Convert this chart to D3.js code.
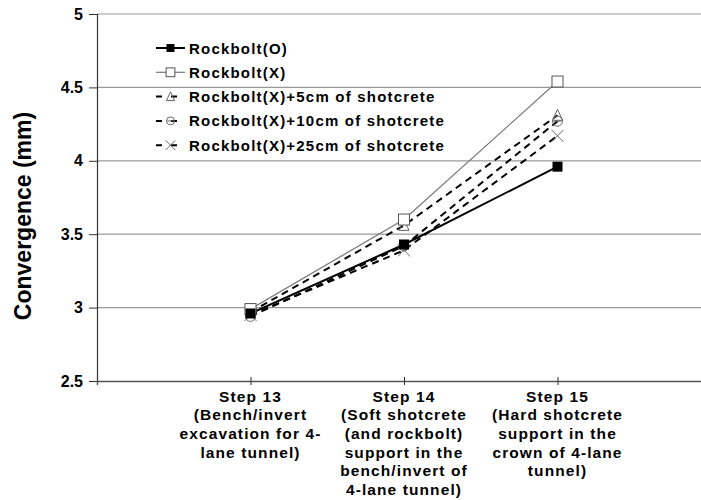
<!DOCTYPE html>
<html><head><meta charset="utf-8">
<script src="https://cdn.jsdelivr.net/npm/d3@7"></script>
<style>body{margin:0;background:#fff}svg{display:block}</style>
</head><body>
<svg id="c" width="701" height="500"></svg>
<script>
const categories = [
  ["Step 13","(Bench/invert","excavation for 4-","lane tunnel)"],
  ["Step 14","(Soft shotcrete","(and rockbolt)","support in the","bench/invert of","4-lane tunnel)"],
  ["Step 15","(Hard shotcrete","support in the","crown of 4-lane","tunnel)"]
];
const seriesNames = ["Rockbolt(O)","Rockbolt(X)","Rockbolt(X)+5cm of shotcrete","Rockbolt(X)+10cm of shotcrete","Rockbolt(X)+25cm of shotcrete"];
const rockboltO = [2.96, 3.43, 3.96];
const rockboltX = [2.99, 3.60, 4.54];
const shot5 = [2.97, 3.56, 4.31];
const shot10 = [2.94, 3.42, 4.27];
const shot25 = [2.95, 3.39, 4.17];
const yTicks = [2.5, 3, 3.5, 4, 4.5, 5];

const svg = d3.select("#c");
const L = 97, R = 711, T = 14, B = 381;
const x = d3.scalePoint().domain(["", ...categories.map(c=>c[0]), " "]).range([L, R]);
const y = d3.scaleLinear().domain([2.5, 5]).range([B, T]);
const font = "'Liberation Sans', Arial, sans-serif";

// grid
svg.append("g").selectAll("line").data(yTicks.filter(t=>t>2.5)).join("line")
  .attr("x1", L).attr("x2", 701).attr("y1", d=>y(d)).attr("y2", d=>y(d))
  .attr("stroke", "#999").attr("stroke-width", 1.2);

// y axis
const ya = svg.append("g").attr("transform", `translate(${L},0)`)
  .call(d3.axisLeft(y).tickValues(yTicks).tickSize(8).tickPadding(6).tickFormat(d3.format("")));
ya.select(".domain").attr("stroke", "#333").attr("stroke-width", 1.2);
ya.selectAll(".tick line").attr("stroke", "#333");
ya.selectAll("text").attr("font-family", font).attr("font-weight", "bold").attr("font-size", 16).attr("fill", "#000");

// x axis
const xa = svg.append("g").attr("transform", `translate(0,${B})`)
  .call(d3.axisBottom(x).tickValues(categories.map(c=>c[0])).tickSize(4).tickFormat(""));
xa.select(".domain").attr("stroke", "#555").attr("stroke-width", 1.5);
xa.selectAll(".tick line").attr("stroke", "#333").attr("y1", -4);

// x labels
const xl = svg.append("g").selectAll("text").data(categories).join("text")
  .attr("x", d=>x(d[0])).attr("y", 401.5).attr("text-anchor", "middle")
  .attr("font-family", font).attr("font-weight", "bold").attr("font-size", 15.5).attr("letter-spacing", 1.1);
xl.selectAll("tspan").data(d=>d).join("tspan")
  .attr("x", function(){return x(this.parentNode.__data__[0]);})
  .attr("dy", (d,i)=> i===0 ? 0 : 18.7).text(d=>d);

// y title
svg.append("text").attr("transform", "translate(31,216) rotate(-90)")
  .attr("text-anchor", "middle").attr("font-family", font).attr("font-weight", "bold")
  .attr("font-size", 23).text("Convergence (mm)");

const cats = categories.map(c=>c[0]);
const series = [
  {name: seriesNames[0], vals: rockboltO, stroke:"#000", w:2, dash:null, marker:"fsq"},
  {name: seriesNames[1], vals: rockboltX, stroke:"#777", w:1.2, dash:null, marker:"osq"},
  {name: seriesNames[2], vals: shot5, stroke:"#000", w:2, dash:"7,5", marker:"tri"},
  {name: seriesNames[3], vals: shot10, stroke:"#000", w:2, dash:"7,5", marker:"circ"},
  {name: seriesNames[4], vals: shot25, stroke:"#000", w:2, dash:"7,5", marker:"x"}
];
const line = d3.line().x((d,i)=>x(cats[i])).y(d=>y(d));

function drawMarker(g, type, cx, cy, scale){
  const s = scale||1;
  if(type==="fsq") g.append("rect").attr("x", cx-5*s).attr("y", cy-5*s).attr("width",10*s).attr("height",10*s).attr("fill","#000");
  if(type==="osq") g.append("rect").attr("x", cx-5.5*s).attr("y", cy-5.5*s).attr("width",11*s).attr("height",11*s).attr("fill","#fff").attr("stroke","#555").attr("stroke-width",1);
  if(type==="tri") g.append("path").attr("d", `M${cx},${cy-6*s}L${cx+5*s},${cy+5*s}L${cx-5*s},${cy+5*s}Z`).attr("fill","none").attr("stroke","#666").attr("stroke-width",1);
  if(type==="circ"){ g.append("circle").attr("cx",cx).attr("cy",cy).attr("r",5*s).attr("fill","none").attr("stroke","#666").attr("stroke-width",1);
    g.append("line").attr("x1",cx-4*s).attr("x2",cx+4*s).attr("y1",cy).attr("y2",cy).attr("stroke","#666").attr("stroke-width",1);}
  if(type==="x") g.append("path").attr("d", `M${cx-6*s},${cy-6*s}L${cx+6*s},${cy+6*s}M${cx-6*s},${cy+6*s}L${cx+6*s},${cy-6*s}`).attr("stroke","#666").attr("stroke-width",1);
}

const plot = svg.append("g");
series.slice().reverse().forEach(s=>{
  plot.append("path").datum(s.vals).attr("d", line).attr("fill","none")
    .attr("stroke", s.stroke).attr("stroke-width", s.w).attr("stroke-dasharray", s.dash);
});
series.slice().reverse().forEach(s=>{
  const g = plot.append("g");
  s.vals.forEach((v,i)=>drawMarker(g, s.marker, x(cats[i]), y(v)));
});

// legend
const lg = svg.append("g");
series.forEach((s,i)=>{
  const ly = 48 + i*24.3;
  lg.append("line").attr("x1",156).attr("x2",185).attr("y1",ly).attr("y2",ly)
    .attr("stroke", s.stroke).attr("stroke-width", s.w).attr("stroke-dasharray", s.dash ? "6,9" : null);
  drawMarker(lg, s.marker, 170.5, ly, 0.8);
  lg.append("text").attr("x", 189).attr("y", ly+5.5).attr("font-family", font).attr("font-weight","bold")
    .attr("font-size", 15).attr("letter-spacing", 1.2).text(s.name);
});
</script>
</body></html>
